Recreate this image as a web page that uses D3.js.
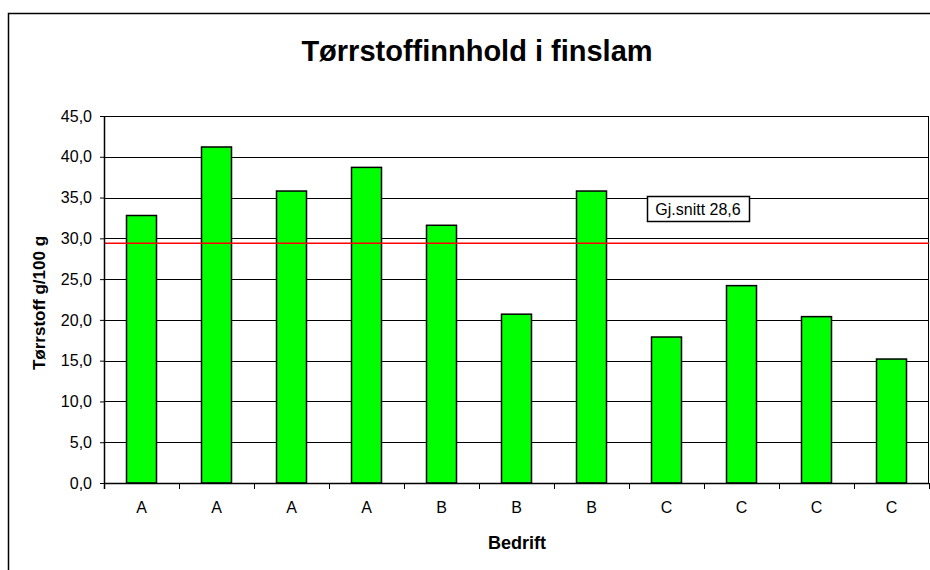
<!DOCTYPE html>
<html>
<head>
<meta charset="utf-8">
<script src="https://cdn.jsdelivr.net/npm/d3@7"></script>
<style>
  body { margin: 0; background: #fff; }
  text { font-family: "Liberation Sans", Arial, sans-serif; }
</style>
</head>
<body>
<div id="chart"></div>
<script>
var categories = ["A", "A", "A", "A", "B", "B", "B", "C", "C", "C", "C"];
var values = [32.8, 41.2, 35.8, 38.7, 31.6, 20.7, 35.8, 17.9, 24.2, 20.4, 15.2];
var avgLine = 29.4;
var avgLabel = "Gj.snitt 28,6";
var yTicks = [0, 5, 10, 15, 20, 25, 30, 35, 40, 45];

var width = 930, height = 570;
var margin = {top: 116, right: 1, bottom: 87, left: 104};
var w = width - margin.left - margin.right,
  h = height - margin.top - margin.bottom;

var svg = d3.select("#chart").append("svg")
  .attr("width", width)
  .attr("height", height);

// outer chart border (cut off on right and bottom)
svg.append("rect")
  .attr("x", 8.5).attr("y", 13.5)
  .attr("width", 940).attr("height", 580)
  .style("fill", "none").style("stroke", "#000").style("stroke-width", 1.5);

svg.append("text")
  .attr("x", 477).attr("y", 61)
  .attr("text-anchor", "middle")
  .style("font-size", "29px").style("font-weight", "bold")
  .text("Tørrstoffinnhold i finslam");

var g = svg.append("g")
  .attr("transform", "translate(" + margin.left + "," + margin.top + ")");

var x = d3.scaleBand()
  .domain(d3.range(categories.length))
  .range([0, w])
  .paddingInner(0.6)
  .paddingOuter(0.3);

var y = d3.scaleLinear()
  .domain([0, 45])
  .range([h, 0]);

// gridlines
g.selectAll(".grid")
  .data(yTicks)
  .enter().append("line")
  .attr("x1", 0).attr("x2", w)
  .attr("y1", function(d) { return Math.round(y(d)) + 0.5; })
  .attr("y2", function(d) { return Math.round(y(d)) + 0.5; })
  .style("stroke", "#000").style("stroke-width", 1);

// plot border right
g.append("line")
  .attr("x1", w - 0.5).attr("x2", w - 0.5)
  .attr("y1", 0).attr("y2", h)
  .style("stroke", "#000");

// bars
g.selectAll(".bar")
  .data(values)
  .enter().append("rect")
  .attr("x", function(d, i) { return x(i); })
  .attr("y", function(d) { return y(d); })
  .attr("width", x.bandwidth())
  .attr("height", function(d) { return h - y(d); })
  .style("fill", "#00ff00")
  .style("stroke", "#000")
  .style("stroke-width", 1.5);

// average line
g.append("line")
  .attr("x1", 0).attr("x2", w)
  .attr("y1", y(avgLine)).attr("y2", y(avgLine))
  .style("stroke", "#ff0000").style("stroke-width", 1.5);

// y axis
var yAxis = d3.axisLeft(y)
  .tickValues(yTicks)
  .tickSize(4)
  .tickPadding(8)
  .tickFormat(function(d) { return d3.format(".1f")(d).replace(".", ","); });

g.append("g")
  .attr("class", "y axis")
  .call(yAxis)
  .call(function(s) {
    s.select(".domain").attr("d", "M0.5,0V" + (h + 6)).style("stroke", "#000").style("stroke-width", 1.5);
    s.selectAll("text").style("font-size", "16px").style("fill", "#000");
    s.selectAll("line").style("stroke", "#000");
  });

// x axis ticks between categories
var xTicks = d3.range(categories.length + 1);
g.selectAll(".xtick")
  .data(xTicks)
  .enter().append("line")
  .attr("x1", function(d) { return Math.round(d * w / categories.length) + 0.5; })
  .attr("x2", function(d) { return Math.round(d * w / categories.length) + 0.5; })
  .attr("y1", h).attr("y2", h + 6)
  .style("stroke", "#000");

g.append("line")
  .attr("x1", 0).attr("x2", w)
  .attr("y1", h + 0.5).attr("y2", h + 0.5)
  .style("stroke", "#000").style("stroke-width", 1.5);

g.selectAll(".xlabel")
  .data(categories)
  .enter().append("text")
  .attr("x", function(d, i) { return x(i) + x.bandwidth() / 2; })
  .attr("y", h + 30)
  .attr("text-anchor", "middle")
  .style("font-size", "16px")
  .text(function(d) { return d; });

// axis titles
svg.append("text")
  .attr("x", 517).attr("y", 549)
  .attr("text-anchor", "middle")
  .style("font-size", "18px").style("font-weight", "bold")
  .text("Bedrift");

svg.append("text")
  .attr("transform", "translate(45,303) rotate(-90)")
  .attr("text-anchor", "middle")
  .style("font-size", "17px").style("font-weight", "bold")
  .text("Tørrstoff g/100 g");

// average label box
var lab = svg.append("g").attr("transform", "translate(647,196)");
lab.append("rect")
  .attr("x", 0.5).attr("y", 0.5)
  .attr("width", 102).attr("height", 25)
  .style("fill", "#fff").style("stroke", "#000").style("stroke-width", 1.5);
lab.append("text")
  .attr("x", 51).attr("y", 18.5)
  .attr("text-anchor", "middle")
  .style("font-size", "16px")
  .text(avgLabel);
</script>
</body>
</html>
